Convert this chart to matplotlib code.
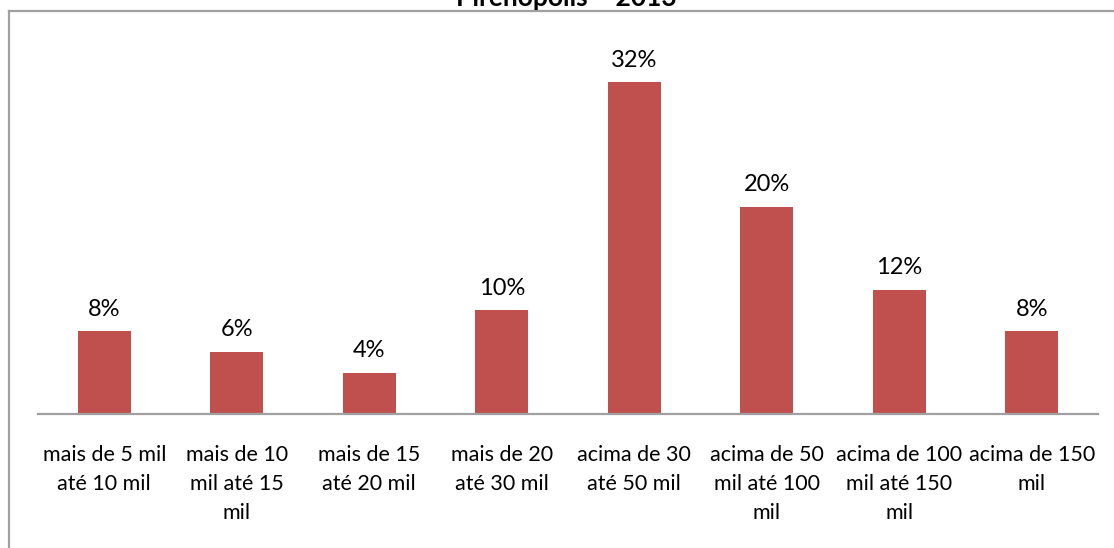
import numpy as np
import matplotlib.pyplot as plt
from matplotlib.lines import Line2D

plt.rcParams['font.family'] = ['Lato', 'DejaVu Sans']

# faixas de renda e participação (%)
faixas = [
    "mais de 5 mil\naté 10 mil",
    "mais de 10\nmil até 15\nmil",
    "mais de 15\naté 20 mil",
    "mais de 20\naté 30 mil",
    "acima de 30\naté 50 mil",
    "acima de 50\nmil até 100\nmil",
    "acima de 100\nmil até 150\nmil",
    "acima de 150\nmil",
]
valores = [8, 6, 4, 10, 32, 20, 12, 8]

W, H = 1114, 548
fig = plt.figure(figsize=(W / 100, H / 100), dpi=100)

# moldura do gráfico (cortada à direita e embaixo)
cinza = "#a0a0a0"
fig.add_artist(Line2D([9 / W, 1], [1 - 11 / H, 1 - 11 / H], color=cinza, lw=1.6))
fig.add_artist(Line2D([9 / W, 9 / W], [1 - 11 / H, 0], color=cinza, lw=1.6))

fig.text(566 / W, 1 - 6 / H, "Pirenópolis – 2013", ha="center", va="baseline",
         fontsize=19, fontweight="bold")

ax = fig.add_axes([38 / W, (H - 414) / H, 1060 / W, 332 / H])
x = np.arange(len(valores))
ax.bar(x, valores, width=0.4, color="#c0504d")
ax.set_xlim(-0.5, len(valores) - 0.5)
ax.set_ylim(0, 32)

for xi, v in zip(x, valores):
    ax.annotate(f"{v}%", (xi, v), xytext=(0, 11), textcoords="offset points",
                ha="center", va="baseline", fontsize=17, annotation_clip=False)

for s in ["top", "right", "left"]:
    ax.spines[s].set_visible(False)
ax.spines["bottom"].set_color(cinza)
ax.spines["bottom"].set_linewidth(1.6)
ax.set_yticks([])
ax.set_xticks(x)
ax.set_xticklabels(faixas, fontsize=15.5, linespacing=1.58, va="top")
ax.tick_params(axis="x", length=0, pad=22)

fig.savefig("out.png", dpi=100)
